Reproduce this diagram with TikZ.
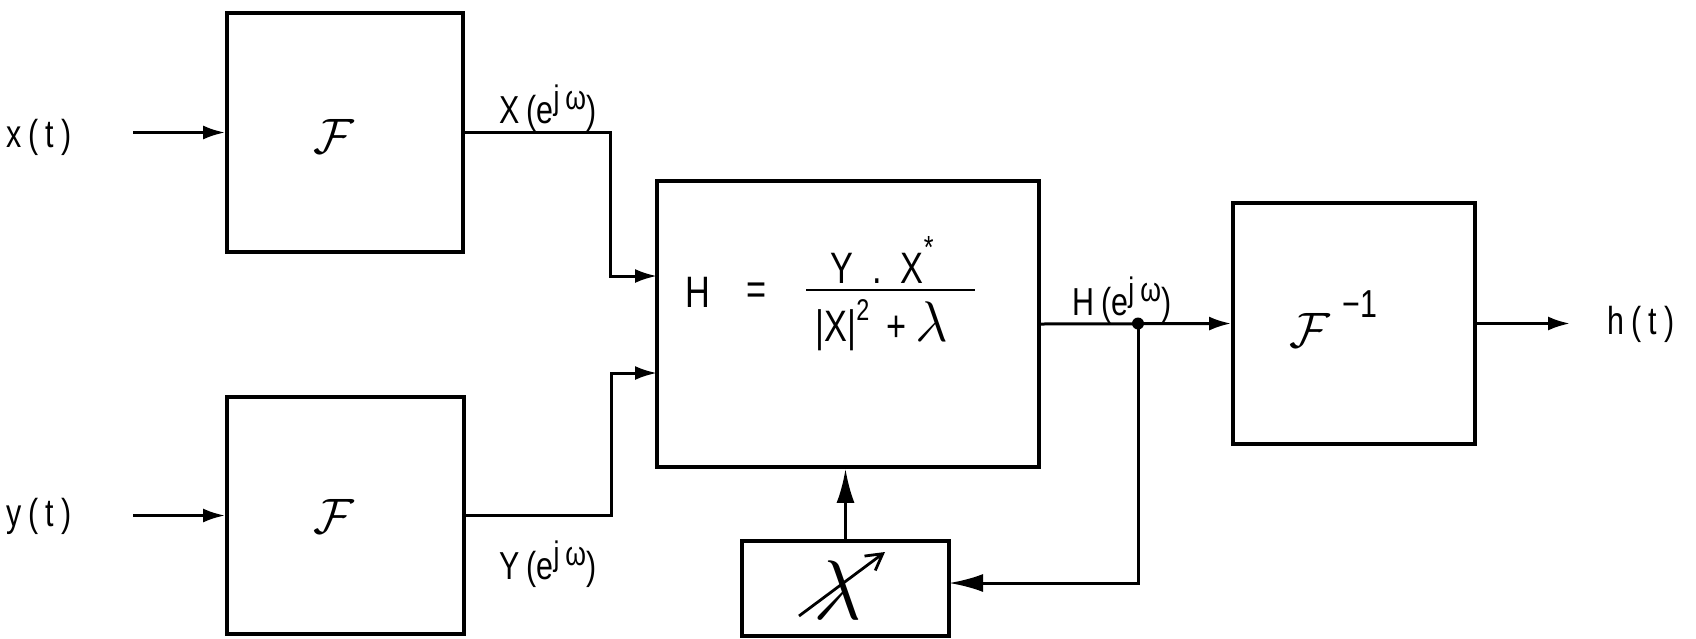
\documentclass[tikz,border=0pt]{standalone}
\usepackage{fontspec}
\setmainfont[FakeStretch=0.78]{Liberation Sans}
\usepackage{graphicx}
\usetikzlibrary{arrows.meta}
\newcommand\sep{\hspace{0.18em}}
\newcommand\jw{\raisebox{0.7ex}{\fontsize{17}{18}\selectfont j\sep ω}}
\begin{document}
\begin{tikzpicture}[x=0.5pt,y=-0.5pt,
  blk/.style={draw, line width=1.9pt, inner sep=0pt},
  wire/.style={line width=1.5pt},
  sarr/.style={wire, -{Latex[length=11pt,width=7pt]}},
  barr/.style={wire, -{Latex[length=17pt,width=9pt]}},
  lbl/.style={font=\fontsize{19.5}{22}\selectfont, inner sep=0pt},
  fml/.style={font=\fontsize{22}{26}\selectfont, inner sep=0pt},
  cal/.style={font=\fontsize{28}{30}\selectfont, inner sep=0pt}]
\useasboundingbox (0,0) rectangle (1696,638);
% blocks
\node[blk, minimum width=118pt, minimum height=119.5pt] (F1) at (345,132.5) {};
\node[blk, minimum width=118.5pt, minimum height=118.5pt] (F2) at (345.5,515.5) {};
\node[blk, minimum width=191pt, minimum height=143pt] (H) at (848,324) {};
\node[blk, minimum width=103.5pt, minimum height=47.5pt] (L) at (845.5,588.5) {};
\node[blk, minimum width=121pt, minimum height=120.5pt] (Fi) at (1354,323.5) {};
% block contents
\node[cal] (f1) at (334,136) {$\mathcal{F}$};
\node[cal] (f2) at (334,516) {$\mathcal{F}$};
\node[cal] (fi) at (1310,330) {$\mathcal{F}$};
\node[lbl] (fim) at (1360,304) {\textminus1};
\node[fml] (Hs) at (698,292) {H};
\node[fml] (eq) at (757,294) {=};
\node[fml] (num) at (882,260) {Y\ \ .\ \ X\raisebox{1.1ex}{\fontsize{16}{18}\selectfont *}};
\coordinate (barl) at (806,290);
\coordinate (barr) at (975,290);
\draw[line width=1.3pt] (barl) -- (barr);
\node[fml] (den) at (882,325) {|X|\raisebox{0.9ex}{\fontsize{15}{18}\selectfont 2}\ \,+\ {\fontsize{24}{26}\selectfont\scalebox{1.15}{$\lambda$}}};
\node[font=\fontsize{24}{26}\selectfont, inner sep=0pt] (lam) at (838,590) {\scalebox{1.7}{$\lambda$}};
\coordinate (la) at (799,616);
\coordinate (lb) at (885,552);
\draw[line width=1.4pt, -{Straight Barb[length=8pt,width=9pt]}] (la) -- (lb);
% labels
\node[lbl] (xt) at (39,137) {x\sep(\sep t\sep)};
\node[lbl] (yt) at (39,516) {y\sep(\sep t\sep)};
\node[lbl] (ht) at (1641,324) {h\sep(\sep t\sep)};
\node[lbl] (Xl) at (548,108) {X\,(e\jw)};
\node[lbl] (Yl) at (548,564) {Y\,(e\jw)};
\node[lbl] (Hl) at (1122,300) {H\,(e\jw)};
% connectors
\coordinate (xin) at (133,132.5);
\coordinate (yin) at (133,515.5);
\coordinate (h1) at (657,276);
\coordinate (h2) at (657,373);
\coordinate (j) at (1138,323.5);
\coordinate (fb) at (949,583);
\coordinate (out) at (1570,323.5);
\draw[sarr] (xin) -- (F1.west);
\draw[sarr] (yin) -- (F2.west);
\draw[sarr] (F1.east) -- ++(146,0) |- (h1);
\draw[sarr] (F2.east) -- ++(146,0) |- (h2);
\draw[sarr] (H.east) -- (Fi.west);
\fill (j) circle[radius=3pt];
\draw[barr] (j) |- (fb);
\draw[barr] (L.north) -- (L.north |- H.south);
\draw[sarr] (Fi.east) -- (out);
\end{tikzpicture}
\end{document}
